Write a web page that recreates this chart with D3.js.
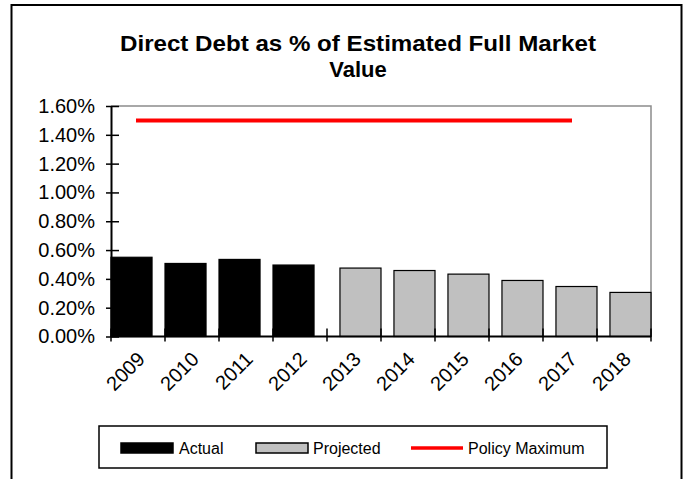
<!DOCTYPE html>
<html>
<head>
<meta charset="utf-8">
<script src="https://cdn.jsdelivr.net/npm/d3@7"></script>
<style>
  html, body { margin: 0; padding: 0; background: #fff; }
  svg { display: block; font-family: "Liberation Sans", Arial, sans-serif; }
</style>
</head>
<body>
<svg id="chart" width="686" height="479"></svg>
<script>
// ---- data ----
const years = ["2009","2010","2011","2012","2013","2014","2015","2016","2017","2018"];
const actualYears = ["2009","2010","2011","2012"];
const actualValues = [0.0055, 0.00507, 0.00535, 0.00496];
const projectedYears = ["2013","2014","2015","2016","2017","2018"];
const projectedValues = [0.00475, 0.00458, 0.00433, 0.00389, 0.00347, 0.00306];
const policyYears = ["2009","2010","2011","2012","2013","2014","2015","2016","2017"];
const policyValues = [0.015, 0.015, 0.015, 0.015, 0.015, 0.015, 0.015, 0.015, 0.015];
const yTicks = [0, 0.002, 0.004, 0.006, 0.008, 0.010, 0.012, 0.014, 0.016];
const titleLines = ["Direct Debt as % of Estimated Full Market", "Value"];
const legendLabels = ["Actual", "Projected", "Policy Maximum"];

const svg = d3.select("#chart");

// outer border
svg.append("rect").attr("x", 11.5).attr("y", 5).attr("width", 670).attr("height", 490)
  .attr("fill", "#fff").attr("stroke", "#000").attr("stroke-width", 2);

// title
const tt = svg.append("g").selectAll("text").data(titleLines).join("text")
  .attr("x", 358).attr("y", (d, i) => 51 + i * 26)
  .attr("text-anchor", "middle").attr("font-weight", "bold").attr("font-size", 22)
  .attr("fill", "#000").text(d => d);
tt.filter((d, i) => i === 0).attr("textLength", 476).attr("lengthAdjust", "spacingAndGlyphs");

const pLeft = 111, pRight = 651, pTop = 106, pBottom = 336.5;
const x = d3.scaleBand().domain(years).range([pLeft, pRight]).paddingInner(0).paddingOuter(0);
const y = d3.scaleLinear().domain([0, 0.016]).range([pBottom, pTop]);
const bw = x.bandwidth();
const barW = bw * 0.76;

// plot area border (gray top and right)
svg.append("path")
  .attr("d", `M${pLeft},${pTop}H${pRight}V${pBottom}`)
  .attr("fill", "none").attr("stroke", "#8c8c8c").attr("stroke-width", 1.5);

// bars
svg.append("g").selectAll("rect").data(actualYears.map((k, i) => ({k, v: actualValues[i]}))).join("rect")
  .attr("x", d => x(d.k)).attr("y", d => y(d.v))
  .attr("width", barW).attr("height", d => y(0) - y(d.v))
  .attr("fill", "#000").attr("stroke", "#000").attr("stroke-width", 1.2);

svg.append("g").selectAll("rect").data(projectedYears.map((k, i) => ({k, v: projectedValues[i]}))).join("rect")
  .attr("x", d => x(d.k) + bw - barW).attr("y", d => y(d.v))
  .attr("width", barW).attr("height", d => y(0) - y(d.v))
  .attr("fill", "#c0c0c0").attr("stroke", "#000").attr("stroke-width", 1.2);

// policy line
const line = d3.line().x(d => x(d.k) + bw / 2).y(d => y(d.v));
svg.append("path")
  .attr("d", line(policyYears.map((k, i) => ({k, v: policyValues[i]}))))
  .attr("fill", "none").attr("stroke", "#ff0000").attr("stroke-width", 4)
  .attr("stroke-linecap", "square");

// y axis
const yAxis = d3.axisLeft(y).tickValues(yTicks).tickFormat(d3.format(".2%"))
  .tickSizeInner(5).tickSizeOuter(0).tickPadding(11);
const gy = svg.append("g").attr("transform", `translate(${pLeft},0)`).call(yAxis);
gy.select(".domain").attr("stroke", "#000").attr("stroke-width", 2);
gy.selectAll(".tick line").attr("stroke", "#000").attr("stroke-width", 1.5).attr("x2", 8).attr("x1", -5);
gy.selectAll(".tick text").attr("font-size", 20).attr("fill", "#000")
  .attr("font-family", "Liberation Sans, Arial, sans-serif").attr("x", -16);

// x axis
const gx = svg.append("g").attr("transform", `translate(0,${pBottom})`);
gx.append("line").attr("x1", pLeft).attr("x2", pRight).attr("stroke", "#000").attr("stroke-width", 2);
const boundaries = years.map(k => x(k)).concat([pRight]);
gx.selectAll("line.tk").data(boundaries).join("line").attr("class", "tk")
  .attr("x1", d => d).attr("x2", d => d).attr("y1", -8).attr("y2", 5)
  .attr("stroke", "#000").attr("stroke-width", 1.5);
gx.selectAll("text").data(years).join("text")
  .attr("transform", d => `translate(${x(d) + bw / 2 + 8},${24}) rotate(-45)`)
  .attr("text-anchor", "end").attr("font-size", 20).attr("fill", "#000")
  .text(d => d);

// legend
const lg = svg.append("g");
lg.append("rect").attr("x", 99).attr("y", 426).attr("width", 508).attr("height", 42)
  .attr("fill", "#fff").attr("stroke", "#000").attr("stroke-width", 1.5);
const legendItems = [
  {label: legendLabels[0], type: "bar", fill: "#000", sx: 121, tx: 179},
  {label: legendLabels[1], type: "bar", fill: "#c0c0c0", sx: 256, tx: 313},
  {label: legendLabels[2], type: "line", fill: "#ff0000", sx: 411, tx: 468}
];
legendItems.forEach(it => {
  if (it.type === "bar") {
    lg.append("rect").attr("x", it.sx).attr("y", 443).attr("width", 52).attr("height", 10)
      .attr("fill", it.fill).attr("stroke", "#000").attr("stroke-width", 1.5);
  } else {
    lg.append("line").attr("x1", it.sx).attr("x2", it.sx + 52).attr("y1", 448).attr("y2", 448)
      .attr("stroke", it.fill).attr("stroke-width", 3.5);
  }
  lg.append("text").attr("x", it.tx).attr("y", 454).attr("font-size", 16).attr("fill", "#000").text(it.label);
});
</script>
</body>
</html>
